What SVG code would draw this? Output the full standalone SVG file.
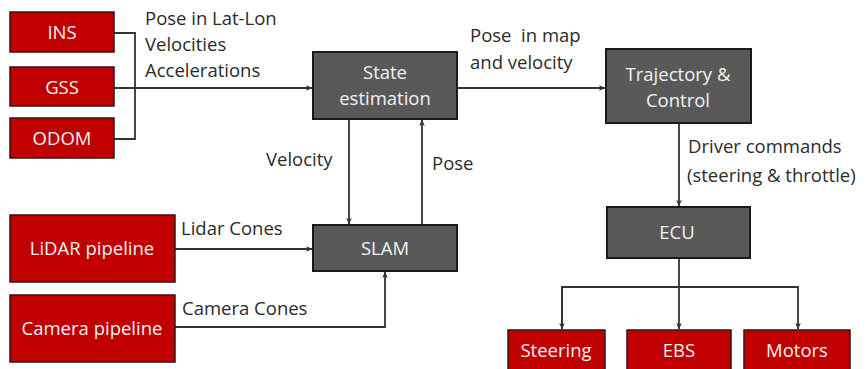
<svg xmlns="http://www.w3.org/2000/svg" width="868" height="369" viewBox="0 0 868 369">
  <defs>
    <style>
      .red { fill: #c00000; stroke: #3a1010; stroke-width: 1.5; }
      .gray { fill: #595959; stroke: #1a1a1a; stroke-width: 2; }
      .box-text { font-family: "Open Sans", "Liberation Sans", sans-serif; font-size: 18.5px; fill: #f2f2f2; text-anchor: middle; }
      .label { font-family: "Open Sans", "Liberation Sans", sans-serif; font-size: 18.5px; fill: #2b2b2b; }
      .wire { fill: none; stroke: #333; stroke-width: 1.8; }
    </style>
    <marker id="arrow" viewBox="0 0 10 10" refX="9" refY="5" markerWidth="7" markerHeight="7" orient="auto" markerUnits="userSpaceOnUse">
      <path d="M0,1 L10,5 L0,9 L3,5 z" fill="#333"/>
    </marker>
  </defs>

  <!-- connectors -->
  <g id="connectors">
    <path class="wire" d="M114,33 H135 V139 H114"/>
    <path class="wire" d="M114,88 H312" marker-end="url(#arrow)"/>
    <path class="wire" d="M457,88 H605" marker-end="url(#arrow)"/>
    <path class="wire" d="M349,119 V224" marker-end="url(#arrow)"/>
    <path class="wire" d="M422,225 V120" marker-end="url(#arrow)"/>
    <path class="wire" d="M175,249 H312" marker-end="url(#arrow)"/>
    <path class="wire" d="M175,327 H385 V272" marker-end="url(#arrow)"/>
    <path class="wire" d="M679,123 V206" marker-end="url(#arrow)"/>
    <path class="wire" d="M679,258 V329" marker-end="url(#arrow)"/>
    <path class="wire" d="M562,329 V287 H798 V329" marker-end="url(#arrow)"/>
    <path class="wire" d="M562,287 V329" marker-end="url(#arrow)"/>
  </g>

  <!-- connector labels -->
  <g id="labels">
    <text class="label" x="145" y="25">Pose in Lat-Lon</text>
    <text class="label" x="145" y="51">Velocities</text>
    <text class="label" x="145" y="77">Accelerations</text>
    <text class="label" x="470" y="42" xml:space="preserve">Pose  in map</text>
    <text class="label" x="470" y="69">and velocity</text>
    <text class="label" x="266" y="166">Velocity</text>
    <text class="label" x="432" y="170">Pose</text>
    <text class="label" x="181" y="235">Lidar Cones</text>
    <text class="label" x="182" y="315">Camera Cones</text>
    <text class="label" x="688" y="153">Driver commands</text>
    <text class="label" x="687" y="182">(steering &amp; throttle)</text>
  </g>

  <g id="ins"><rect class="red" x="10" y="12" width="104" height="40"/><text class="box-text" x="62" y="39">INS</text></g>
  <g id="gss"><rect class="red" x="10" y="67" width="104" height="39"/><text class="box-text" x="62" y="94">GSS</text></g>
  <g id="odom"><rect class="red" x="10" y="118" width="104" height="40"/><text class="box-text" x="62" y="145">ODOM</text></g>

  <g id="state-estimation"><rect class="gray" x="313" y="52" width="144" height="67"/><text class="box-text" x="385" y="79">State</text><text class="box-text" x="385" y="105">estimation</text></g>
  <g id="trajectory-control"><rect class="gray" x="606" y="49" width="145" height="74"/><text class="box-text" x="678" y="81">Trajectory &amp;</text><text class="box-text" x="678" y="107">Control</text></g>
  <g id="slam"><rect class="gray" x="313" y="225" width="144" height="46"/><text class="box-text" x="385" y="255">SLAM</text></g>

  <g id="lidar-pipeline"><rect class="red" x="10" y="215" width="165" height="67"/><text class="box-text" x="92" y="255">LiDAR pipeline</text></g>
  <g id="camera-pipeline"><rect class="red" x="10" y="295" width="165" height="67"/><text class="box-text" x="92" y="335">Camera pipeline</text></g>

  <g id="ecu"><rect class="gray" x="607" y="207" width="143" height="51"/><text class="box-text" x="677" y="239">ECU</text></g>

  <g id="steering"><rect class="red" x="508" y="330" width="97" height="45"/><text class="box-text" x="556" y="357">Steering</text></g>
  <g id="ebs"><rect class="red" x="627" y="330" width="104" height="45"/><text class="box-text" x="679" y="357">EBS</text></g>
  <g id="motors"><rect class="red" x="744" y="330" width="106" height="45"/><text class="box-text" x="797" y="357">Motors</text></g>
</svg>
